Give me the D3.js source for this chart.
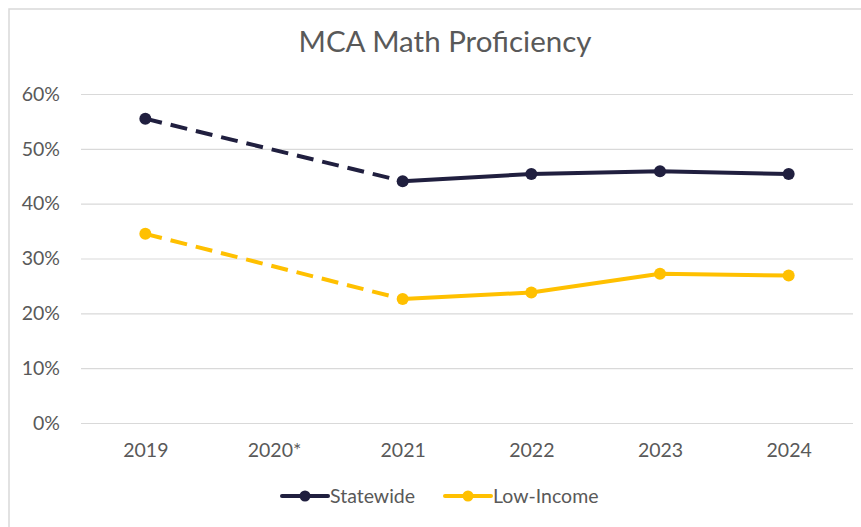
<!DOCTYPE html>
<html>
<head>
<meta charset="utf-8">
<script src="https://cdn.jsdelivr.net/npm/d3@7"></script>
<style>
  body { margin: 0; background: #fff; }
  text { font-family: Lato, "Open Sans", sans-serif; fill: #595959; }
</style>
</head>
<body>
<script>
'use strict';

var years     = ['2019', '2020*', '2021', '2022', '2023', '2024'];
var statewide = [55.5, null, 44.1, 45.4, 45.9, 45.4];
var lowIncome = [34.5, null, 22.6, 23.8, 27.2, 26.9];
var yTicks    = [0, 10, 20, 30, 40, 50, 60];
var seriesNames  = ['Statewide', 'Low-Income'];
var seriesColors = ['#201f3f', '#ffc000'];

var width = 861, height = 527;

var svg = d3.select('body').append('svg')
    .attr('width', width)
    .attr('height', height);

// chart frame
svg.append('rect')
    .attr('x', 9).attr('y', 9)
    .attr('width', width).attr('height', height)
    .attr('fill', 'none')
    .attr('stroke', '#d9d9d9')
    .attr('stroke-width', 1.5);

svg.append('text')
    .attr('x', 445).attr('y', 52)
    .attr('text-anchor', 'middle')
    .style('font-size', '29.5px')
    .text('MCA Math Proficiency');

var x = d3.scalePoint()
    .domain(years)
    .range([81, 853])
    .padding(0.5);

var y = d3.scaleLinear()
    .domain([0, 60])
    .range([423, 94]);

// gridlines + y labels
var yAxis = svg.append('g')
    .attr('transform', 'translate(81,0)')
    .call(d3.axisLeft(y)
      .tickValues(yTicks)
      .tickSize(-772)
      .tickPadding(21)
      .tickFormat(function(d) { return d + '%'; }));
yAxis.select('.domain').remove();
yAxis.selectAll('line').attr('stroke', '#d9d9d9').attr('stroke-width', 1.2);
yAxis.selectAll('text')
    .attr('fill', '#595959')
    .style('font-family', 'Lato, sans-serif')
    .style('font-size', '19.5px');

// x labels
var xAxis = svg.append('g')
    .attr('transform', 'translate(0,423)')
    .call(d3.axisBottom(x).tickSize(0).tickPadding(20));
xAxis.select('.domain').remove();
xAxis.selectAll('text')
    .attr('fill', '#595959')
    .style('font-family', 'Lato, sans-serif')
    .style('font-size', '19.5px');

var line = d3.line()
    .x(function(d) { return x(d.year); })
    .y(function(d) { return y(d.value); });

[statewide, lowIncome].forEach(function(values, i) {
  var pts = years.map(function(yr, j) { return {year: yr, value: values[j]}; })
      .filter(function(d) { return d.value !== null; });
  var g = svg.append('g');
  // 2019 -> 2021 bridging the missing year, dashed
  g.append('path')
      .datum(pts.slice(0, 2))
      .attr('d', line)
      .attr('fill', 'none')
      .attr('stroke', seriesColors[i])
      .attr('stroke-width', 4)
      .attr('stroke-dasharray', '17,9');
  g.append('path')
      .datum(pts.slice(1))
      .attr('d', line)
      .attr('fill', 'none')
      .attr('stroke', seriesColors[i])
      .attr('stroke-width', 4)
      .attr('stroke-linejoin', 'round');
  g.selectAll('circle')
    .data(pts)
    .enter().append('circle')
      .attr('cx', function(d) { return x(d.year); })
      .attr('cy', function(d) { return y(d.value); })
      .attr('r', 6)
      .attr('fill', seriesColors[i]);
});

// legend
var legendX = [282, 445];
var legend = svg.selectAll('.legend')
    .data(seriesNames)
    .enter().append('g')
    .attr('class', 'legend')
    .attr('transform', function(d, i) { return 'translate(' + legendX[i] + ',496)'; });
legend.append('line')
    .attr('x1', 0).attr('x2', 46)
    .attr('stroke', function(d, i) { return seriesColors[i]; })
    .attr('stroke-width', 4)
    .attr('stroke-linecap', 'round');
legend.append('circle')
    .attr('cx', 23).attr('r', 5.5)
    .attr('fill', function(d, i) { return seriesColors[i]; });
legend.append('text')
    .attr('x', 48).attr('y', 7)
    .style('font-size', '19.5px')
    .text(function(d) { return d; });
</script>
</body>
</html>
